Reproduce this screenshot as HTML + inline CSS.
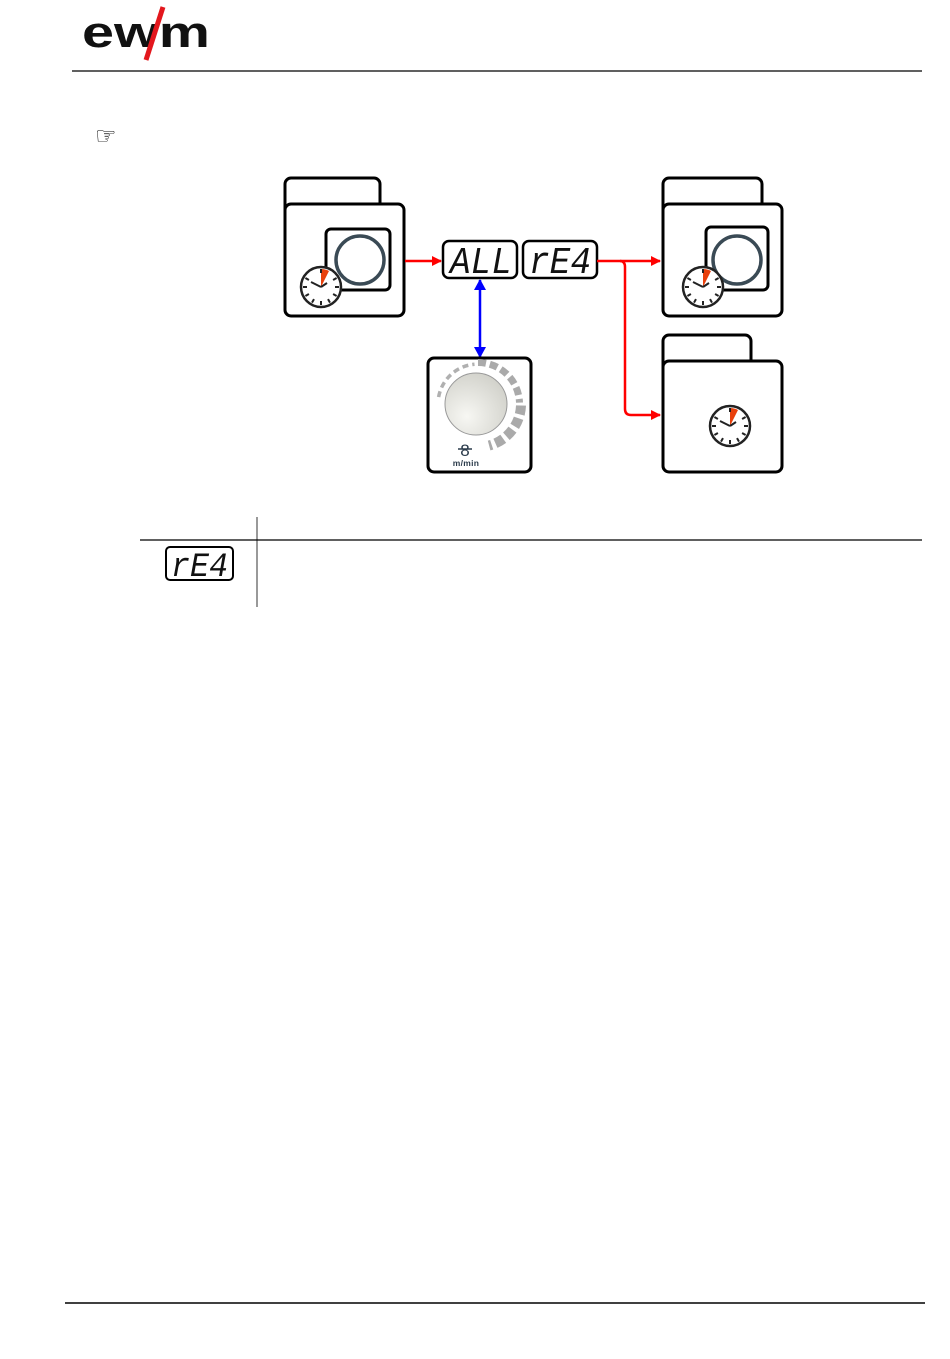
<!DOCTYPE html>
<html><head><meta charset="utf-8"><style>
html,body{margin:0;padding:0;background:#fff}
svg{display:block}
text{font-family:"Liberation Sans",sans-serif}
</style></head><body>
<svg width="950" height="1359" viewBox="0 0 950 1359" xmlns="http://www.w3.org/2000/svg">
<defs>
<marker id="ar" markerWidth="10" markerHeight="10" refX="9" refY="5" orient="auto" markerUnits="userSpaceOnUse"><path d="M0,0 L10,5 L0,10 z" fill="#f00"/></marker>
<marker id="ab" markerWidth="12" markerHeight="12" refX="10" refY="6" orient="auto-start-reverse" markerUnits="userSpaceOnUse"><path d="M0,0 L11,6 L0,12 z" fill="#00f"/></marker>
<g id="clk">
<circle r="20" fill="#fff" stroke="#222" stroke-width="2.5"/>
<path d="M0,0 L0,-18 A18,18 0 0 1 8,-16 z" fill="#e8400c"/>
<g stroke="#222" stroke-width="2">
<line x1="0" y1="-18" x2="0" y2="-14"/><line x1="0" y1="18" x2="0" y2="14"/>
<line x1="-18" y1="0" x2="-14" y2="0"/><line x1="18" y1="0" x2="14" y2="0"/>
<line x1="9" y1="15.6" x2="7" y2="12.1"/><line x1="-9" y1="15.6" x2="-7" y2="12.1"/>
<line x1="15.6" y1="9" x2="12.1" y2="7"/><line x1="-15.6" y1="9" x2="-12.1" y2="7"/>
<line x1="15.6" y1="-9" x2="12.1" y2="-7"/><line x1="-15.6" y1="-9" x2="-12.1" y2="-7"/>
<line x1="0" y1="0" x2="-10" y2="-5"/><line x1="0" y1="0" x2="6" y2="-4"/>
</g></g>
<radialGradient id="kg" cx="0.35" cy="0.7" r="0.8"><stop offset="0" stop-color="#f7f7f3"/><stop offset="1" stop-color="#cfcfc8"/></radialGradient>
</defs>
<!-- logo -->
<text x="82" y="47" font-size="44" font-weight="bold" fill="#111" textLength="128" lengthAdjust="spacingAndGlyphs">ewm</text>
<line x1="163" y1="7" x2="146" y2="60" stroke="#e3171d" stroke-width="5"/>
<line x1="72" y1="71" x2="922" y2="71" stroke="#000" stroke-width="1.2"/>
<text x="95" y="144" font-size="24" fill="#000">☞</text>

<!-- left device -->
<rect x="285" y="178" width="95" height="40" rx="6" fill="#fff" stroke="#000" stroke-width="3"/>
<rect x="285" y="204" width="119" height="112" rx="6" fill="#fff" stroke="#000" stroke-width="3"/>
<rect x="326" y="229" width="64" height="61" rx="5" fill="#fff" stroke="#000" stroke-width="3"/>
<circle cx="360" cy="260" r="24" fill="none" stroke="#3a4a55" stroke-width="3.5"/>
<use href="#clk" x="321" y="287"/>
<line x1="405" y1="261" x2="441" y2="261" stroke="#f00" stroke-width="2.5" marker-end="url(#ar)"/>

<!-- displays -->
<rect x="443" y="241" width="74" height="37" rx="6" fill="#fff" stroke="#000" stroke-width="2.5"/>
<text x="450" y="273" font-size="38" font-style="italic" fill="#111" style="font-family:'Liberation Mono',monospace" textLength="62" lengthAdjust="spacingAndGlyphs">ALL</text>
<rect x="523" y="241" width="74" height="37" rx="6" fill="#fff" stroke="#000" stroke-width="2.5"/>
<text x="529" y="273" font-size="38" font-style="italic" fill="#111" style="font-family:'Liberation Mono',monospace" textLength="62" lengthAdjust="spacingAndGlyphs">rE4</text>

<path d="M597,261 L660,261" stroke="#f00" stroke-width="2.5" fill="none" marker-end="url(#ar)"/>
<path d="M620,261 Q625,261 625,267 L625,409 Q625,415 631,415 L660,415" stroke="#f00" stroke-width="2.5" fill="none" marker-end="url(#ar)"/>

<!-- blue arrow -->
<line x1="480" y1="280" x2="480" y2="357" stroke="#00f" stroke-width="2.5" marker-start="url(#ab)" marker-end="url(#ab)"/>

<!-- knob -->
<rect x="428" y="358" width="103" height="114" rx="6" fill="#fff" stroke="#000" stroke-width="3"/>
<path d="M438.6,397.1 A40,40 0 0 1 474.5,364.2" fill="none" stroke="#b0b0b0" stroke-width="3.5" stroke-dasharray="6 4"/>
<path d="M478,362.5 A41.5,41.5 0 0 1 519.5,402.6" fill="none" stroke="#aaa" stroke-width="7" stroke-dasharray="8 4"/>
<path d="M521,405.5 A43,43 0 0 1 489.1,445.5" fill="none" stroke="#aaa" stroke-width="10" stroke-dasharray="9 4"/>
<circle cx="476" cy="404" r="31" fill="url(#kg)" stroke="#999" stroke-width="1"/>
<text x="465" y="456" font-size="17" text-anchor="middle" fill="#2a3a4a">8</text>
<line x1="458" y1="449" x2="472" y2="449" stroke="#2a3a4a" stroke-width="1.5"/>
<text x="466" y="466" font-size="8.5" font-weight="bold" text-anchor="middle" fill="#2a3a4a" letter-spacing="0.3">m/min</text>

<!-- right top device -->
<rect x="663" y="178" width="99" height="40" rx="6" fill="#fff" stroke="#000" stroke-width="3"/>
<rect x="663" y="204" width="119" height="112" rx="6" fill="#fff" stroke="#000" stroke-width="3"/>
<rect x="706" y="227" width="62" height="63" rx="5" fill="#fff" stroke="#000" stroke-width="3"/>
<circle cx="737" cy="260" r="24" fill="none" stroke="#3a4a55" stroke-width="3.5"/>
<use href="#clk" x="703" y="287"/>

<!-- right bottom device -->
<rect x="663" y="335" width="88" height="40" rx="6" fill="#fff" stroke="#000" stroke-width="3"/>
<rect x="663" y="361" width="119" height="111" rx="6" fill="#fff" stroke="#000" stroke-width="3"/>
<use href="#clk" x="730" y="426"/>

<!-- table -->
<line x1="257" y1="517" x2="257" y2="607" stroke="#555" stroke-width="1.2"/>
<line x1="140" y1="540" x2="922" y2="540" stroke="#000" stroke-width="1.2"/>
<rect x="166" y="547" width="67" height="33" rx="4" fill="#fff" stroke="#000" stroke-width="2"/>
<text x="171" y="576" font-size="34" font-style="italic" fill="#111" style="font-family:'Liberation Mono',monospace" textLength="57" lengthAdjust="spacingAndGlyphs">rE4</text>

<!-- footer -->
<line x1="65" y1="1303" x2="925" y2="1303" stroke="#000" stroke-width="1.5"/>
</svg>
</body></html>
